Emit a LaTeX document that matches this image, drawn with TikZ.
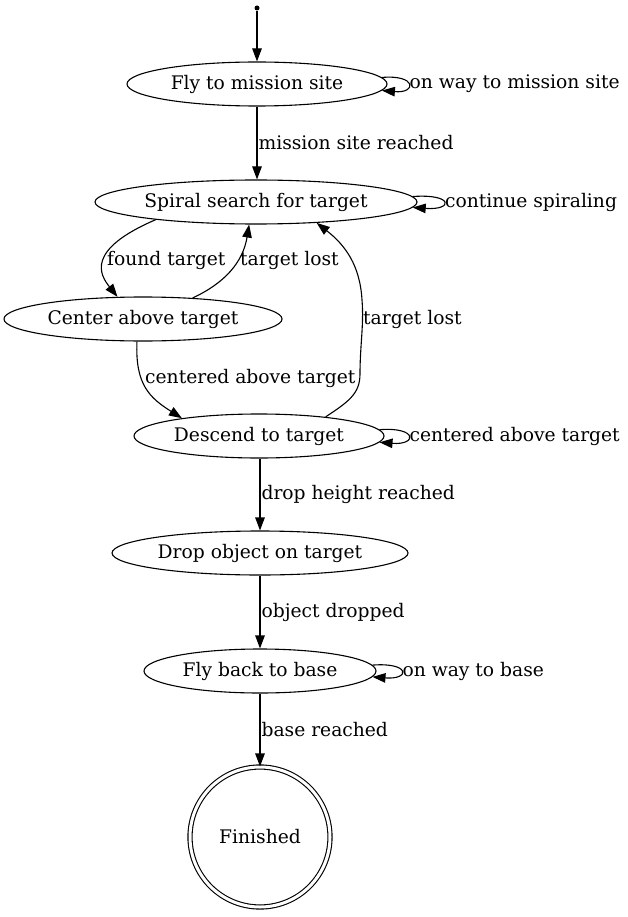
\documentclass[tikz,border=0pt]{standalone}
\usepackage{fontspec}
\setmainfont{DejaVu Serif}
\usetikzlibrary{shapes.geometric,arrows.meta,calc}
\begin{document}
\begin{tikzpicture}[x=1pt,y=-1pt,
  every node/.style={font=\fontsize{18.7}{22}\selectfont},
  state/.style={draw, ellipse, line width=1.1pt, inner sep=0pt, minimum height=44pt},
  lbl/.style={inner sep=1pt},
  edge/.style={line width=1.1pt, -{Triangle[length=13pt,width=9.5pt]}}]
\useasboundingbox (0,0) rectangle (628,917);
\node[circle, fill, minimum size=5pt, inner sep=0pt] (start) at (257,8) {};
\node[state, minimum width=260pt] (fly) at (257,84) {Fly to mission site};
\node[state, minimum width=322pt] (spiral) at (256,202) {Spiral search for target};
\node[state, minimum width=278pt] (center) at (143,319) {Center above target};
\node[state, minimum width=250pt] (descend) at (259,436) {Descend to target};
\node[state, minimum width=296pt] (drop) at (260,553) {Drop object on target};
\node[state, minimum width=232pt] (back) at (260,671) {Fly back to base};
\node[draw, circle, line width=1.1pt, double, double distance=3pt, minimum size=140pt, inner sep=0pt] (fin) at (260,837) {Finished};

\draw[edge] (start) -- (fly.north);
% loops
\draw[edge] (fly.3.3) .. controls +(35,-3) and +(35,3) .. node[lbl, anchor=west] {on way to mission site} (fly.-3.3);
\draw[edge] (spiral.2.6) .. controls +(41,-3) and +(41,3) .. node[lbl, anchor=west] {continue spiraling} (spiral.-2.6);
\draw[edge] (descend.3.4) .. controls +(38,-3) and +(38,3) .. node[lbl, anchor=west] {centered above target} (descend.-3.4);
\draw[edge] (back.3.6) .. controls +(38,-3) and +(38,3) .. node[lbl, anchor=west] {on way to base} (back.-3.6);
% straight
\draw[edge] (fly.south) -- node[lbl, anchor=west] {mission site reached} (fly.south |- spiral.north);
\draw[edge] (descend.south -| drop.north) -- node[lbl, anchor=west] {drop height reached} (drop.north);
\draw[edge] (drop.south) -- node[lbl, anchor=west] {object dropped} (back.north);
\draw[edge] (back.south) -- node[lbl, anchor=west] {base reached} (fin.north);
% curved
\draw[edge] (spiral.-170.5) .. controls (85,250) and (100,275) .. (center.139);
\node[lbl, anchor=west] (lft) at (106,260) {found target};
\draw[edge] (center.23) .. controls (225,283) and (243,262) .. (spiral.-107);
\node[lbl, anchor=west] (ltl) at (239,260) {target lost};
\draw[edge] (center.-105) .. controls (135,385) and (150,398) .. (descend.167);
\node[lbl, anchor=west] (lcat) at (144,378) {centered above target};
\draw[edge] (descend.16) .. controls (348,402) and (360,394) .. (360,374)
  .. controls (360,345) and (364,325) .. (362,300)
  .. controls (360,265) and (345,245) .. (spiral.-19.7);
\node[lbl, anchor=west] (ltl2) at (362,319) {target lost};
\end{tikzpicture}
\end{document}
